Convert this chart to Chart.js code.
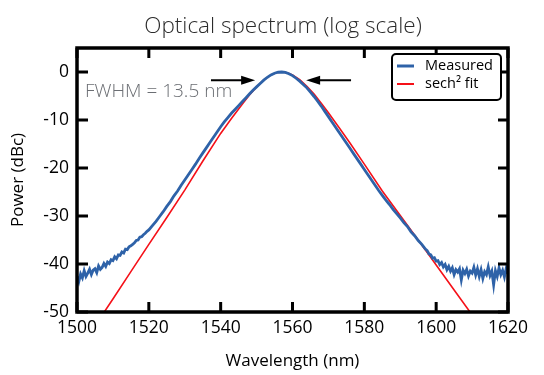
<!DOCTYPE html>
<html>
<head>
<meta charset="utf-8">
<script src="https://cdn.jsdelivr.net/npm/chart.js@4"></script>
<style>
  html, body { margin: 0; padding: 0; background: #fff; }
  #wrap { width: 544px; height: 375px; }
</style>
</head>
<body>
<div id="wrap"><canvas id="spectrumChart" width="544" height="375"></canvas></div>
<script>
// measured spectrum (nm, dBc)
const measuredWavelength = [
  1500, 1500.5, 1501, 1501.5, 1502, 1502.5, 1503, 1503.5, 1504, 1504.5,
  1505, 1505.5, 1506, 1506.5, 1507, 1507.5, 1508, 1508.5, 1509, 1509.5,
  1510, 1510.5, 1511, 1511.5, 1512, 1512.5, 1513, 1513.5, 1514, 1514.5,
  1515, 1515.5, 1516, 1516.5, 1517, 1517.5, 1518, 1518.5, 1519, 1519.5,
  1520,
  1521, 1522, 1523, 1524, 1525, 1526, 1527, 1528, 1529, 1530,
  1531, 1532, 1533, 1534, 1535, 1536, 1537, 1538, 1539, 1540,
  1541, 1542, 1543, 1544, 1545, 1546, 1547, 1548, 1549, 1550,
  1551, 1552, 1553, 1554, 1555, 1556, 1557, 1558, 1559, 1560,
  1561, 1562, 1563, 1564, 1565, 1566, 1567, 1568, 1569, 1570,
  1571, 1572, 1573, 1574, 1575, 1576, 1577, 1578, 1579, 1580,
  1581, 1582, 1583, 1584, 1585, 1586, 1587, 1588, 1589, 1590,
  1591, 1592, 1593, 1594, 1595, 1596, 1597,
  1597.5, 1598, 1598.5, 1599, 1599.5, 1600, 1600.5, 1601, 1601.5, 1602,
  1602.5, 1603, 1603.5, 1604, 1604.5, 1605, 1605.5, 1606, 1606.5, 1607,
  1607.5, 1608, 1608.5, 1609, 1609.5, 1610, 1610.5, 1611, 1611.5, 1612,
  1612.5, 1613, 1613.5, 1614, 1614.5, 1615, 1615.5, 1616, 1616.5, 1617,
  1617.5, 1618, 1618.5, 1619, 1619.5, 1620
];
const measuredPower = [
  -42.6, -43.7, -42.1, -42.9, -41.4, -42.6, -41.9, -41.1, -42.2, -41.3,
  -41.0, -41.8, -40.4, -41.1, -40.7, -39.9, -40.5, -39.6, -39.9, -39.1,
  -39.3, -38.5, -38.9, -38.1, -38.2, -37.5, -37.7, -36.9, -37.0, -36.4,
  -36.2, -35.9, -35.6, -35.1, -35.0, -34.4, -34.3, -33.9, -33.6, -33.2,
  -32.9,
  -32.0, -31.1, -30.1, -29.1, -28.0, -27.0, -25.8, -24.8, -23.6, -22.5,
  -21.4, -20.3, -19.2, -18.0, -16.9, -15.8, -14.7, -13.6, -12.5, -11.4,
  -10.4, -9.5, -8.6, -7.8, -7.0, -6.2, -5.4, -4.6, -3.8, -3.1,
  -2.4, -1.7, -1.1, -0.6, -0.25, -0.05, 0, -0.1, -0.35, -0.75,
  -1.3, -1.9, -2.6, -3.3, -4.2, -5.1, -6.1, -7.1, -8.2, -9.3,
  -10.4, -11.5, -12.6, -13.7, -14.8, -15.9, -17.0, -18.1, -19.2, -20.3,
  -21.4, -22.5, -23.6, -24.7, -25.7, -26.7, -27.6, -28.6, -29.5, -30.4,
  -31.4, -32.2, -33.3, -34.1, -35.1, -35.9, -36.9,
  -37.2, -37.9, -38.1, -38.8, -38.7, -39.4, -39.3, -40.1, -39.7, -40.6,
  -40.1, -41.2, -40.5, -41.5, -40.8, -42.2, -41.2, -41.7, -41.0, -43.3,
  -41.3, -42.0, -41.1, -42.5, -41.5, -41.9, -40.7, -42.3, -41.0, -42.6,
  -41.2, -43.0, -41.6, -42.2, -40.6, -42.4, -41.5, -44.3, -41.4, -42.6,
  -40.8, -42.2, -41.3, -42.7, -40.9, -42.0
];

// sech^2 fit
const fitWavelength = [
  1505, 1510, 1515, 1520, 1525, 1530, 1535, 1540, 1543, 1546,
  1548, 1550, 1552, 1554, 1555.5, 1557, 1558.5, 1560, 1562, 1564,
  1566, 1568, 1570, 1573, 1576, 1580, 1585, 1590, 1595, 1600,
  1605, 1610, 1612
];
const fitPower = [
  -52.9, -47.3, -41.6, -35.9, -30.3, -24.6, -18.6, -12.8, -9.7, -6.7,
  -4.8, -3.1, -1.7, -0.6, -0.15, 0, -0.15, -0.6, -1.6, -3.0,
  -4.6, -6.5, -8.5, -11.6, -14.8, -19.2, -24.8, -29.9, -35.0, -40.2,
  -45.4, -50.6, -52.6
];

const seriesNames = ["Measured", "sech\u00b2 fit"];
const xTicks = [1500, 1520, 1540, 1560, 1580, 1600, 1620];
const yTicks = [-50, -40, -30, -20, -10, 0];

const toPoints = (xs, ys) => xs.map((v, i) => ({ x: v, y: ys[i] }));

Chart.defaults.font.family = "'Open Sans', 'Noto Sans', sans-serif";
Chart.defaults.color = "#000";

// title, frame, inward ticks, FWHM arrows and boxed legend
const decorPlugin = {
  id: "decor",
  afterDatasetsDraw(chart) {
    const { ctx, chartArea: a, scales: { x, y } } = chart;
    ctx.save();

    ctx.fillStyle = "#2b2b2b";
    ctx.font = "300 22.5px 'Open Sans', sans-serif";
    ctx.textAlign = "center";
    ctx.textBaseline = "middle";
    ctx.fillText("Optical spectrum (log scale)", 283, 27);

    ctx.strokeStyle = "#000";
    ctx.lineWidth = 3;
    ctx.beginPath();
    xTicks.forEach(v => {
      const px = x.getPixelForValue(v);
      ctx.moveTo(px, a.bottom); ctx.lineTo(px, a.bottom - 10);
      ctx.moveTo(px, a.top); ctx.lineTo(px, a.top + 10);
    });
    yTicks.forEach(v => {
      const py = y.getPixelForValue(v);
      ctx.moveTo(a.left, py); ctx.lineTo(a.left + 11, py);
      ctx.moveTo(a.right, py); ctx.lineTo(a.right - 10, py);
    });
    ctx.stroke();
    ctx.lineWidth = 3.5;
    ctx.strokeRect(a.left, a.top, a.right - a.left, a.bottom - a.top);

    // FWHM arrows
    const ay = y.getPixelForValue(-1.7);
    const arrow = (from, to) => {
      const x1 = x.getPixelForValue(from), x2 = x.getPixelForValue(to);
      const dir = Math.sign(x2 - x1);
      ctx.lineWidth = 2;
      ctx.beginPath();
      ctx.moveTo(x1, ay); ctx.lineTo(x2 - dir * 10, ay);
      ctx.stroke();
      ctx.beginPath();
      ctx.moveTo(x2, ay);
      ctx.lineTo(x2 - dir * 14, ay - 4.5);
      ctx.lineTo(x2 - dir * 14, ay + 4.5);
      ctx.closePath();
      ctx.fillStyle = "#000";
      ctx.fill();
    };
    arrow(1537.3, 1549.6);
    arrow(1576.3, 1563.8);

    ctx.fillStyle = "#6b6e73";
    ctx.font = "300 19px 'Open Sans', sans-serif";
    ctx.textAlign = "left";
    ctx.fillText("FWHM = 13.5 nm", x.getPixelForValue(1502.2), y.getPixelForValue(-4.0));

    // legend box
    const bx = a.right - 116, by = a.top + 6, bw = 109, bh = 46;
    ctx.fillStyle = "#fff";
    ctx.strokeStyle = "#000";
    ctx.lineWidth = 2;
    ctx.beginPath();
    ctx.roundRect(bx, by, bw, bh, 4);
    ctx.fill();
    ctx.stroke();
    ctx.font = "14.5px 'Open Sans', sans-serif";
    chart.data.datasets.forEach((ds, i) => {
      const ly = by + 12 + i * 18;
      ctx.strokeStyle = ds.borderColor;
      ctx.lineWidth = i === 0 ? 3 : 2;
      ctx.beginPath();
      ctx.moveTo(bx + 5, ly); ctx.lineTo(bx + 22, ly);
      ctx.stroke();
      ctx.fillStyle = "#000";
      ctx.fillText(ds.label, bx + 33, ly);
    });
    ctx.restore();
  }
};

new Chart(document.getElementById("spectrumChart").getContext("2d"), {
  type: "line",
  data: {
    datasets: [
      {
        label: seriesNames[0],
        data: toPoints(measuredWavelength, measuredPower),
        borderColor: "rgb(46, 98, 168)",
        borderWidth: 2.8,
        pointRadius: 0,
        tension: 0,
      },
      {
        label: seriesNames[1],
        data: toPoints(fitWavelength, fitPower),
        borderColor: "rgb(245, 16, 24)",
        borderWidth: 1.6,
        pointRadius: 0,
        tension: 0,
      },
    ],
  },
  options: {
    responsive: false,
    animation: false,
    layout: { padding: { top: 48, right: 36 } },
    plugins: {
      legend: { display: false },
      tooltip: { enabled: false },
      title: { display: false },
    },
    scales: {
      x: {
        type: "linear",
        min: 1500,
        max: 1620,
        afterBuildTicks: s => { s.ticks = xTicks.map(v => ({ value: v })); },
        afterFit: s => { s.height = 63; },
        grid: { display: false, drawTicks: false },
        border: { display: false },
        ticks: { padding: 6, font: { size: 17.5 }, maxRotation: 0, callback: v => String(v) },
        title: { display: true, text: "Wavelength (nm)", font: { size: 17 }, padding: { top: 0, bottom: 4 } },
      },
      y: {
        min: -50,
        max: 5,
        afterBuildTicks: s => { s.ticks = yTicks.map(v => ({ value: v })); },
        afterFit: s => { s.width = 77; },
        grid: { display: false, drawTicks: false },
        border: { display: false },
        ticks: { padding: 8, font: { size: 17.5 }, callback: v => String(v) },
        title: { display: true, text: "Power (dBc)", font: { size: 17 }, padding: { top: 8, bottom: 0 } },
      },
    },
  },
  plugins: [decorPlugin],
});
</script>
</body>
</html>
